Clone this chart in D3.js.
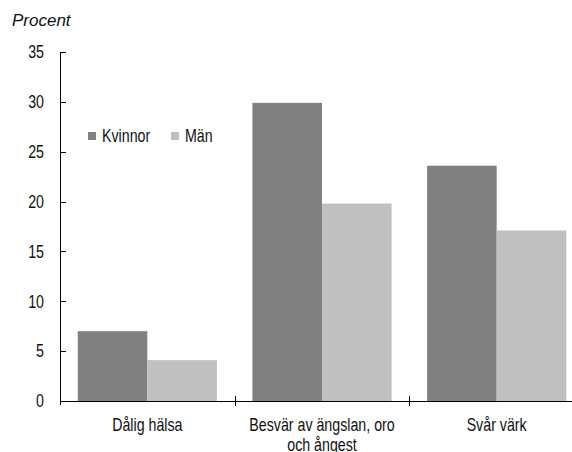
<!DOCTYPE html>
<html>
<head>
<meta charset="utf-8">
<script src="https://cdn.jsdelivr.net/npm/d3@7"></script>
<style>
  body { margin: 0; background: #fff; }
  svg { display: block; }
  .lbl { font-family: "Liberation Sans", Arial, sans-serif; font-size: 18px; fill: #111; }
</style>
</head>
<body>
<svg width="572" height="452"></svg>
<script>
const categories = [['Dålig hälsa'], ['Besvär av ängslan, oro', 'och ångest'], ['Svår värk']];
const seriesNames = ['Kvinnor', 'Män'];
const kvinnor = [7.0, 29.9, 23.6];
const man = [4.1, 19.8, 17.1];
const yTicks = [0, 5, 10, 15, 20, 25, 30, 35];
const colors = ['#808080', '#c0c0c0'];

const svg = d3.select('svg');
const margin = { top: 52, left: 60, bottom: 401, right: 584 };
const narrow = 0.79; // squeeze the sans to look like the condensed face

const x0 = d3.scaleBand().domain(d3.range(categories.length)).range([margin.left, margin.right]).padding(0);
const x1 = d3.scaleBand().domain(seriesNames).range([0, x0.bandwidth()]).paddingInner(0).paddingOuter(0.255);
const y = d3.scaleLinear().domain([0, 35]).range([margin.bottom, margin.top]);

const rows = categories.map((c, i) => ({ i, values: [kvinnor[i], man[i]] }));

// bars
const groups = svg.append('g').selectAll('g').data(rows).join('g')
  .attr('transform', d => `translate(${x0(d.i)},0)`);
groups.selectAll('rect').data(d => d.values.map((v, k) => ({ k, v }))).join('rect')
  .attr('x', d => x1(seriesNames[d.k]))
  .attr('y', d => y(d.v))
  .attr('width', x1.bandwidth())
  .attr('height', d => y(0) - y(d.v))
  .attr('fill', d => colors[d.k]);

// y axis
const ax = svg.append('g');
ax.append('line').attr('x1', margin.left + 0.5).attr('x2', margin.left + 0.5)
  .attr('y1', y(35)).attr('y2', y(0) + 4).attr('stroke', '#000');
ax.selectAll('.yt').data(yTicks).join('line')
  .attr('x1', margin.left).attr('x2', margin.left + 6)
  .attr('y1', d => Math.round(y(d)) + 0.5).attr('y2', d => Math.round(y(d)) + 0.5)
  .attr('stroke', '#000');
ax.selectAll('.ytl').data(yTicks).join('text').attr('class', 'lbl')
  .attr('transform', d => `translate(44,${y(d)}) scale(${narrow},1)`)
  .attr('dy', '0.35em').attr('text-anchor', 'end')
  .text(d => d);

// x axis
ax.append('line').attr('x1', margin.left).attr('x2', 572)
  .attr('y1', Math.round(y(0)) + 0.5).attr('y2', Math.round(y(0)) + 0.5).attr('stroke', '#000');
ax.selectAll('.xt').data(d3.range(1, categories.length)).join('line')
  .attr('x1', d => Math.round(x0(d)) + 0.5).attr('x2', d => Math.round(x0(d)) + 0.5)
  .attr('y1', y(0) - 5).attr('y2', y(0) + 5).attr('stroke', '#000');
const xl = ax.selectAll('.xl').data(categories).join('text').attr('class', 'lbl')
  .attr('text-anchor', 'middle')
  .attr('transform', (d, i) => `translate(${x0(i) + x0.bandwidth() / 2},431) scale(${narrow},1)`);
xl.selectAll('tspan').data(d => d).join('tspan')
  .attr('x', 0)
  .attr('dy', (d, k) => k === 0 ? 0 : 20)
  .text(d => d);

// title
svg.append('text').attr('x', 12).attr('y', 26)
  .style('font-family', '"Liberation Sans", Arial, sans-serif').style('font-style', 'italic').style('font-size', '17px')
  .attr('fill', '#111').text('Procent');

// legend
const leg = svg.append('g').selectAll('g').data(seriesNames).join('g')
  .attr('transform', (d, i) => `translate(${[88, 171][i]},136)`);
leg.append('rect').attr('x', 0).attr('y', -4).attr('width', 8).attr('height', 8).attr('fill', (d, i) => colors[i]);
leg.append('text').attr('class', 'lbl')
  .attr('transform', `translate(14,0) scale(${narrow},1)`)
  .attr('dy', '0.35em').text(d => d);
</script>
</body>
</html>
